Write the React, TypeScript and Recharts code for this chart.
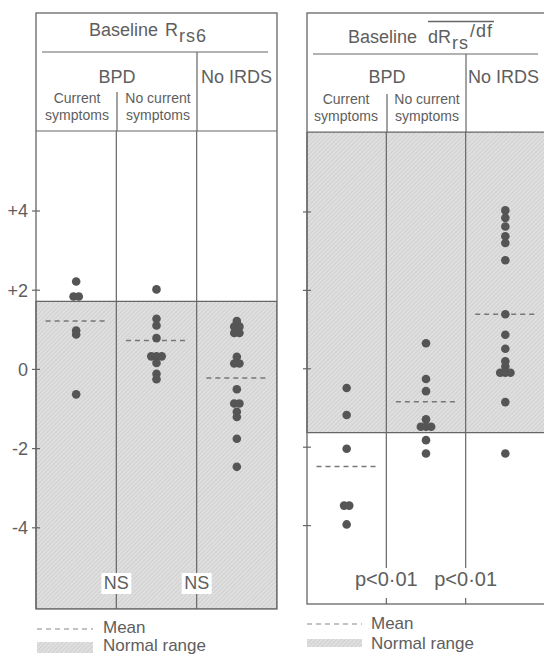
import React from 'react';
import { ScatterChart, Scatter, XAxis, YAxis, ReferenceArea, ReferenceLine } from 'recharts';

// Baseline Rrs6 (left panel)
const rrs6Current = [2.22, 1.84, 1.84, 0.98, 0.88, -0.63];
const rrs6NoCurrent = [2.02, 1.28, 1.11, 0.79, 0.33, 0.33, 0.33, 0.16, -0.11, -0.25];
const rrs6NoIrds = [1.22, 1.08, 1.08, 0.92, 0.92, 0.32, 0.15, 0.15, -0.5, -0.86, -0.86, -1.07, -1.2, -1.75, -2.46];
const rrs6Means = [1.22, 0.73, -0.22];
const rrs6Normal = [-6.05, 1.72];
const rrs6Notes = ['NS', 'NS'];

// Baseline dRrs/df (right panel)
const dfCurrent = [-0.49, -1.18, -2.04, -3.49, -3.49, -3.97];
const dfNoCurrent = [0.65, -0.26, -0.57, -1.29, -1.48, -1.48, -1.48, -1.82, -2.16];
const dfNoIrds = [4.04, 3.85, 3.63, 3.38, 3.21, 2.77, 1.39, 0.87, 0.51, 0.19, 0.06, -0.1, -0.1, -0.1, -0.85, -2.16];
const dfMeans = [-2.49, -0.84, 1.39];
const dfNormal = [-1.63, 6.04];
const dfNotes = ['p<0·01', 'p<0·01'];

const yTicks = [-4, -2, 0, 2, 4];

const FONT = '"Liberation Sans", Arial, sans-serif';
const INK = '#666';
const TEXT = '#5e5e5e';

// spread identical values side by side around the column centre
const toPoints = (values: number[], group: number) => {
    const counts: Record<string, number> = {};
    values.forEach(v => { counts[v] = (counts[v] || 0) + 1; });
    const seen: Record<string, number> = {};
    return values.map(v => {
        const n = counts[v];
        const i = seen[v] || 0;
        seen[v] = i + 1;
        return { x: group + 0.5 + (i - (n - 1) / 2) * 0.065, y: v };
    });
};

const Dot = (props: any) => <circle cx={props.cx} cy={props.cy} r={4.3} fill="#555" />;

const YTick = (props: any) => {
    const { x, y, payload, showLabel } = props;
    const v = payload.value;
    return (
        <g>
            <line x1={x - 4} x2={x + 4} y1={y} y2={y} stroke={INK} strokeWidth={1.2} />
            {showLabel && (
                <text x={x - 8} y={y} dy="0.36em" textAnchor="end" fontSize={18} fill={TEXT} fontFamily={FONT}>
                    {v > 0 ? `+${v}` : `${v}`}
                </text>
            )}
        </g>
    );
};

const NoteLabel = (props: any) => {
    const { viewBox, text, note } = props;
    if (!viewBox || !text) return null;
    const cx = viewBox.x;
    const bottom = viewBox.y + viewBox.height;
    return (
        <g>
            <rect x={cx - note.w / 2} y={bottom - note.top} width={note.w} height={note.top - note.bottom} fill="#fff" />
            <text x={cx} y={bottom - note.base} textAnchor="middle" fontSize={note.size} fill={TEXT} fontFamily={FONT}>
                {text}
            </text>
        </g>
    );
};

interface PanelProps {
    left: number;
    top: number;
    plotWidth: number;
    height: number;
    domain: number[];
    groups: number[][];
    means: number[];
    normal: number[];
    notes: string[];
    note: { w: number; top: number; bottom: number; base: number; size: number };
    showLabels: boolean;
}

const Panel = ({ left, top, plotWidth, height, domain, groups, means, normal, notes, note, showLabels }: PanelProps) => (
    <div style={{ position: 'absolute', left, top }}>
        <ScatterChart width={plotWidth + 36} height={height} margin={{ top: 0, right: 0, bottom: 0, left: 0 }}>
            <XAxis type="number" dataKey="x" domain={[0, 3]} hide />
            <YAxis
                type="number"
                dataKey="y"
                domain={domain}
                ticks={yTicks}
                interval={0}
                width={36}
                axisLine={false}
                tickLine={false}
                tickSize={0}
                tickMargin={0}
                tick={<YTick showLabel={showLabels} />}
            />
            <ReferenceArea x1={0} x2={3} y1={normal[0]} y2={normal[1]} fill="url(#hatch)" fillOpacity={1} stroke={INK} strokeWidth={1.2} />
            {[1, 2].map((x, i) => (
                <ReferenceLine key={x} x={x} stroke={INK} strokeWidth={1.2} label={<NoteLabel text={notes[i]} note={note} />} />
            ))}
            {means.map((m, i) => (
                <ReferenceLine
                    key={'m' + i}
                    segment={[{ x: i + 0.12, y: m }, { x: i + 0.88, y: m }]}
                    stroke="#777"
                    strokeWidth={1.5}
                    strokeDasharray="5 4"
                />
            ))}
            {groups.map((vals, g) => (
                <Scatter key={g} data={toPoints(vals, g)} isAnimationActive={false} shape={Dot} />
            ))}
        </ScatterChart>
    </div>
);

export default function App() {
    const t = { fontFamily: FONT, fill: TEXT };
    return (
        <div style={{ position: 'absolute', left: 0, top: 0, width: 544, height: 654, overflow: 'hidden', background: '#fff' }}>
            <Panel
                left={0}
                top={131}
                plotWidth={241}
                height={478}
                domain={[-6.05, 6.02]}
                groups={[rrs6Current, rrs6NoCurrent, rrs6NoIrds]}
                means={rrs6Means}
                normal={rrs6Normal}
                notes={rrs6Notes}
                note={{ w: 30, top: 36, bottom: 15, base: 20, size: 18 }}
                showLabels
            />
            <Panel
                left={271}
                top={132}
                plotWidth={238}
                height={472}
                domain={[-6, 6.04]}
                groups={[dfCurrent, dfNoCurrent, dfNoIrds]}
                means={dfMeans}
                normal={dfNormal}
                notes={dfNotes}
                note={{ w: 72, top: 36, bottom: 6, base: 18, size: 20 }}
                showLabels={false}
            />
            <svg width={544} height={654} style={{ position: 'absolute', left: 0, top: 0, pointerEvents: 'none' }}>
                <defs>
                    <pattern id="hatch" width="3" height="3" patternUnits="userSpaceOnUse" patternTransform="rotate(45)">
                        <rect width="3" height="3" fill="#dfdfdf" />
                        <line x1="0" y1="0" x2="0" y2="3" stroke="#c6c6c6" strokeWidth="1.2" />
                    </pattern>
                </defs>

                {/* left panel frame and header */}
                <rect x={36} y={13} width={241} height={596} fill="none" stroke={INK} strokeWidth={1.3} />
                <line x1={36} x2={277} y1={131} y2={131} stroke={INK} strokeWidth={1.2} />
                <line x1={42} x2={268} y1={52} y2={52} stroke={INK} strokeWidth={1.2} />
                <line x1={197} x2={197} y1={52} y2={131} stroke={INK} strokeWidth={1.2} />
                <line x1={117} x2={117} y1={92} y2={131} stroke={INK} strokeWidth={1.2} />
                <text x={89} y={36} fontSize={18} {...t}>
                    Baseline<tspan x={165}>R</tspan>
                    <tspan dx={1} dy={6} letterSpacing={1}>rs6</tspan>
                </text>
                <text x={117} y={83} fontSize={18} textAnchor="middle" {...t}>BPD</text>
                <text x={201} y={83} fontSize={18} {...t}>No IRDS</text>
                <text x={77} y={103} fontSize={14} textAnchor="middle" {...t}>Current</text>
                <text x={77} y={120} fontSize={14} textAnchor="middle" {...t}>symptoms</text>
                <text x={158} y={103} fontSize={14} textAnchor="middle" {...t}>No current</text>
                <text x={158} y={120} fontSize={14} textAnchor="middle" {...t}>symptoms</text>

                {/* right panel frame and header */}
                <rect x={307} y={13} width={240} height={591} fill="none" stroke={INK} strokeWidth={1.3} />
                <line x1={307} x2={544} y1={132} y2={132} stroke={INK} strokeWidth={1.2} />
                <line x1={313} x2={538} y1={54} y2={54} stroke={INK} strokeWidth={1.2} />
                <line x1={466} x2={466} y1={54} y2={132} stroke={INK} strokeWidth={1.2} />
                <line x1={387} x2={387} y1={94} y2={132} stroke={INK} strokeWidth={1.2} />
                <line x1={428} x2={494} y1={21.5} y2={21.5} stroke={INK} strokeWidth={1.3} />
                <text x={348} y={43} fontSize={18} {...t}>
                    Baseline<tspan x={428}>dR</tspan>
                    <tspan dx={1} dy={6} letterSpacing={1}>rs</tspan>
                    <tspan dx={1} dy={-12} letterSpacing={1}>/df</tspan>
                </text>
                <text x={387} y={83} fontSize={18} textAnchor="middle" {...t}>BPD</text>
                <text x={468} y={83} fontSize={18} {...t}>No IRDS</text>
                <text x={346} y={104} fontSize={14} textAnchor="middle" {...t}>Current</text>
                <text x={346} y={121} fontSize={14} textAnchor="middle" {...t}>symptoms</text>
                <text x={427} y={104} fontSize={14} textAnchor="middle" {...t}>No current</text>
                <text x={427} y={121} fontSize={14} textAnchor="middle" {...t}>symptoms</text>

                {/* legends */}
                <line x1={37} x2={93} y1={629} y2={629} stroke="#888" strokeWidth={1.2} strokeDasharray="5 4" />
                <text x={103} y={633} fontSize={17} {...t}>Mean</text>
                <rect x={37} y={642} width={56} height={11} fill="url(#hatch)" />
                <text x={103} y={651} fontSize={17} {...t}>Normal range</text>

                <line x1={307} x2={362} y1={624} y2={624} stroke="#888" strokeWidth={1.2} strokeDasharray="5 4" />
                <text x={371} y={629} fontSize={17} {...t}>Mean</text>
                <rect x={307} y={639} width={55} height={8} fill="url(#hatch)" />
                <text x={371} y={649} fontSize={17} {...t}>Normal range</text>
            </svg>
        </div>
    );
}
